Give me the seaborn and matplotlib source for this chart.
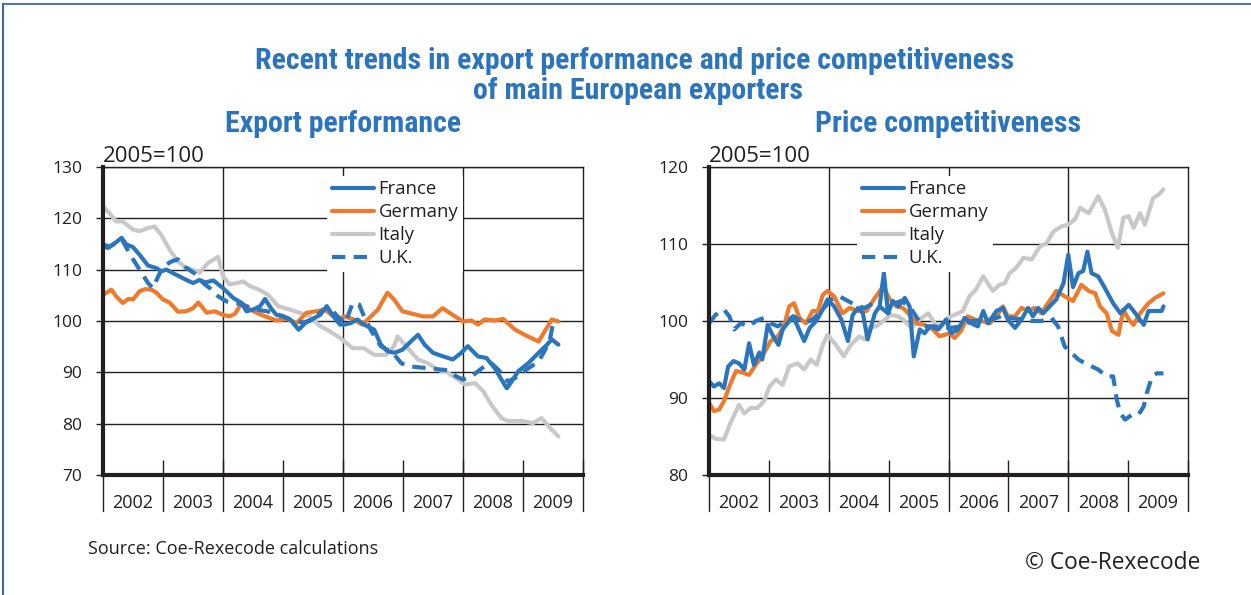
import numpy as np
import pandas as pd
import matplotlib
matplotlib.use("Agg")
import matplotlib.pyplot as plt
import seaborn as sns
from matplotlib import font_manager
from matplotlib.lines import Line2D

# ---------------- data ----------------
BASE_YEAR = 2002
year_labels = ["2002", "2003", "2004", "2005", "2006", "2007", "2008", "2009"]

# Export performance (2005=100); t = years since Jan 2002
exp_france_t = [0, .08, .17, .31, .39, .50, .61, .75, .89, .97, 1.06, 1.22, 1.39, 1.50, 1.61, 1.70, 1.84, 2.00, 2.17, 2.31,
                2.39, 2.50, 2.62, 2.70, 2.81, 2.89, 3.01, 3.12, 3.26, 3.37, 3.48, 3.62, 3.73, 3.84, 3.95, 4.02, 4.13, 4.24, 4.35, 4.52,
                4.63, 4.74, 4.86, 4.99, 5.13, 5.25, 5.36, 5.50, 5.67, 5.83, 5.97, 6.08, 6.25, 6.39, 6.53, 6.64, 6.73, 6.81, 6.92, 7.09,
                7.26, 7.40, 7.48, 7.59]
exp_france_v = [114.7, 114.2, 114.9, 116.2, 114.9, 114.4, 112.9, 110.8, 110.3, 109.7, 110.0, 109.0, 108.0, 107.4, 108.0, 107.5, 107.9, 106.4, 104.5, 103.5,
                101.9, 102.2, 102.9, 104.3, 102.3, 101.2, 100.9, 100.3, 98.3, 99.6, 100.3, 101.2, 102.9, 100.9, 99.3, 99.3, 99.6, 100.3, 99.3, 98.3,
                95.4, 94.1, 93.8, 94.4, 96.0, 97.3, 95.4, 93.8, 93.1, 92.5, 93.8, 95.1, 93.1, 92.8, 90.8, 88.6, 86.9, 88.2, 90.2, 91.8,
                93.8, 95.4, 96.4, 95.4]

exp_germany_t = [0, .14, .22, .33, .42, .50, .61, .70, .81, .89, 1.00, 1.11, 1.25, 1.39, 1.50, 1.59, 1.73, 1.86, 2.00, 2.11,
                 2.20, 2.31, 2.42, 2.56, 2.70, 2.89, 3.06, 3.23, 3.39, 3.56, 3.70, 3.84, 3.95, 4.02, 4.18, 4.32, 4.44, 4.58, 4.74, 4.85,
                 4.99, 5.16, 5.33, 5.50, 5.66, 5.80, 6.00, 6.14, 6.25, 6.36, 6.53, 6.67, 6.87, 7.03, 7.26, 7.48, 7.59]
exp_germany_v = [105.1, 106.1, 104.8, 103.5, 104.3, 104.2, 105.8, 106.2, 106.1, 105.5, 104.2, 103.6, 101.8, 101.9, 102.5, 103.6, 101.6, 101.9, 101.2, 100.9,
                 101.4, 103.5, 102.5, 101.6, 100.9, 100.1, 100.4, 99.6, 101.6, 101.9, 102.2, 100.9, 100.4, 100.9, 100.3, 99.3, 100.6, 102.2, 105.5, 104.2,
                 101.9, 101.4, 100.9, 100.9, 102.5, 101.4, 99.9, 100.1, 99.3, 100.3, 100.1, 100.4, 98.3, 97.3, 96.0, 100.3, 99.9]

exp_italy_t = [0, .11, .22, .33, .50, .61, .75, .86, .97, 1.11, 1.25, 1.39, 1.50, 1.61, 1.75, 1.92, 2.00, 2.11, 2.23, 2.34,
               2.45, 2.62, 2.75, 2.92, 3.12, 3.28, 3.45, 3.62, 3.78, 3.95, 4.16, 4.35, 4.52, 4.72, 4.85, 4.91, 5.08, 5.25, 5.41, 5.58,
               5.75, 5.92, 6.03, 6.20, 6.34, 6.47, 6.64, 6.75, 6.98, 7.17, 7.31, 7.45, 7.59]
exp_italy_v = [122.3, 121.0, 119.4, 119.4, 117.8, 117.5, 118.1, 118.4, 116.8, 113.9, 111.6, 110.3, 110.0, 109.4, 111.3, 112.5, 108.7, 107.1, 107.4, 107.7,
               106.8, 106.0, 105.1, 102.9, 102.2, 101.6, 100.9, 99.0, 98.0, 96.7, 94.7, 94.7, 93.4, 93.4, 95.1, 97.0, 94.7, 92.5, 91.8, 90.5,
               89.9, 88.6, 87.6, 87.9, 86.3, 83.7, 81.1, 80.5, 80.5, 80.1, 81.1, 79.2, 77.5]

exp_uk_t = [0, .11, .31, .47, .61, .75, .83, .92, 1.00, 1.14, 1.25, 1.36, 1.56, 1.67, 1.78, 1.92, 2.06, 2.23, 2.39, 2.56,
            2.73, 2.89, 3.12, 3.34, 3.51, 3.67, 3.76, 3.90, 4.04, 4.16, 4.27, 4.35, 4.46, 4.63, 4.83, 4.97, 5.08, 5.25, 5.41, 5.58,
            5.75, 5.89, 6.00, 6.14, 6.25, 6.36, 6.47, 6.59, 6.75, 6.92, 7.09, 7.26, 7.37, 7.45, 7.51]
exp_uk_v = [114.9, 114.5, 116.0, 112.6, 110.0, 107.4, 106.4, 108.7, 110.6, 111.6, 112.0, 110.6, 109.0, 107.4, 106.4, 104.8, 103.8, 103.5, 102.9, 102.2,
            101.9, 101.4, 100.3, 99.7, 100.4, 102.2, 102.9, 101.0, 99.6, 103.5, 103.2, 100.9, 98.3, 95.1, 93.8, 91.8, 91.2, 91.0, 90.8, 90.6,
            90.4, 89.2, 88.6, 89.2, 90.2, 91.2, 91.8, 90.5, 88.2, 89.2, 90.8, 92.1, 94.4, 96.4, 100.3]

# Price competitiveness (2005=100)
pc_france_t = [0, .08, .17, .25, .32, .41, .50, .59, .67, .75, .84, .89, .98, 1.06, 1.16, 1.23, 1.31, 1.40, 1.48, 1.59,
               1.68, 1.79, 1.90, 1.98, 2.09, 2.21, 2.32, 2.40, 2.49, 2.57, 2.65, 2.77, 2.85, 2.92, 2.99, 3.07, 3.16, 3.27, 3.35, 3.42,
               3.52, 3.60, 3.69, 3.83, 3.96, 4.04, 4.16, 4.27, 4.38, 4.49, 4.58, 4.66, 4.80, 4.91, 4.99, 5.11, 5.22, 5.33, 5.41, 5.50,
               5.58, 5.69, 5.80, 5.92, 6.00, 6.08, 6.17, 6.25, 6.32, 6.39, 6.50, 6.61, 6.75, 6.87, 7.01, 7.12, 7.26, 7.34, 7.45, 7.56, 7.59]
pc_france_v = [92.2, 91.5, 91.9, 91.3, 94.1, 94.8, 94.5, 93.7, 97.1, 94.3, 95.9, 95.0, 99.5, 98.2, 96.9, 98.9, 99.7, 100.6, 99.3, 97.4,
               99.1, 100.0, 101.5, 102.8, 101.9, 100.2, 97.4, 100.8, 101.7, 101.0, 97.6, 101.0, 101.9, 106.2, 101.0, 102.6, 101.9, 103.0, 101.9, 95.4,
               98.9, 98.4, 99.3, 98.9, 100.2, 98.4, 98.9, 100.4, 99.7, 99.3, 101.3, 99.7, 101.3, 101.7, 100.2, 99.1, 100.2, 101.7, 100.6, 101.7,
               101.0, 101.9, 102.8, 104.9, 108.6, 104.4, 106.2, 106.5, 109.0, 106.2, 105.8, 104.3, 102.3, 101.0, 102.1, 101.0, 99.5, 101.3, 101.3, 101.3, 101.9]

pc_germany_t = [0, .08, .17, .25, .34, .45, .56, .67, .78, .89, 1.03, 1.15, 1.25, 1.34, 1.42, 1.51, 1.62, 1.73, 1.82, 1.90,
                1.98, 2.09, 2.23, 2.35, 2.49, 2.63, 2.77, 2.91, 3.02, 3.13, 3.24, 3.35, 3.46, 3.60, 3.74, 3.85, 3.93, 4.02, 4.10, 4.21,
                4.32, 4.44, 4.55, 4.69, 4.80, 4.91, 4.99, 5.11, 5.22, 5.33, 5.44, 5.55, 5.66, 5.80, 5.94, 6.08, 6.22, 6.34, 6.45, 6.53,
                6.64, 6.73, 6.84, 6.92, 7.01, 7.09, 7.20, 7.34, 7.45, 7.59]
pc_germany_v = [89.4, 88.3, 88.5, 89.6, 91.5, 93.5, 93.3, 93.0, 94.3, 95.4, 97.4, 98.0, 99.3, 101.9, 102.3, 100.4, 99.7, 101.3, 101.3, 103.4,
                103.9, 103.2, 101.0, 101.7, 101.3, 101.3, 103.0, 104.5, 102.8, 101.9, 101.7, 100.8, 99.7, 99.5, 98.9, 98.0, 98.2, 98.4, 97.8, 98.7,
                100.6, 100.2, 100.0, 99.7, 100.6, 101.9, 100.6, 100.6, 101.7, 101.3, 101.7, 101.0, 102.3, 103.9, 103.2, 102.6, 104.7, 103.9, 103.6, 101.9,
                101.0, 98.7, 98.2, 101.5, 100.2, 99.5, 101.0, 102.3, 103.0, 103.6]

pc_italy_t = [0, .11, .25, .36, .50, .59, .70, .81, .92, 1.01, 1.12, 1.23, 1.34, 1.48, 1.59, 1.70, 1.80, 1.90, 1.98, 2.12,
              2.25, 2.37, 2.51, 2.60, 2.68, 2.79, 2.91, 3.04, 3.16, 3.27, 3.38, 3.52, 3.66, 3.77, 3.88, 3.99, 4.10, 4.24, 4.35, 4.46,
              4.58, 4.74, 4.85, 4.94, 5.02, 5.13, 5.25, 5.39, 5.53, 5.64, 5.75, 5.89, 6.00, 6.11, 6.20, 6.34, 6.50, 6.61, 6.73, 6.83,
              6.92, 7.01, 7.09, 7.20, 7.28, 7.42, 7.51, 7.59]
pc_italy_v = [85.2, 84.7, 84.6, 86.8, 89.1, 88.0, 88.7, 88.7, 89.6, 91.5, 92.4, 91.7, 94.1, 94.5, 93.7, 95.0, 94.3, 96.9, 98.2, 96.9,
              95.4, 96.9, 98.0, 97.6, 99.1, 99.3, 100.0, 100.8, 100.6, 100.0, 99.1, 100.2, 101.0, 99.7, 99.3, 100.4, 100.8, 101.3, 103.2, 104.1,
              105.8, 103.9, 104.7, 104.9, 106.2, 106.9, 108.2, 108.0, 109.7, 110.1, 111.6, 112.3, 112.5, 113.2, 114.7, 114.0, 116.2, 114.5, 111.4, 109.5,
              113.4, 113.6, 112.1, 114.0, 112.5, 116.0, 116.4, 117.1]

pc_uk_t = [0, .11, .25, .34, .42, .53, .67, .78, .92, 1.03, 1.15, 1.28, 1.42, 1.59, 1.73, 1.90, 2.04, 2.18, 2.32, 2.49,
           2.60, 2.74, 2.88, 2.99, 3.10, 3.21, 3.35, 3.49, 3.60, 3.77, 3.88, 4.04, 4.21, 4.38, 4.55, 4.72, 4.88, 5.05, 5.22, 5.39,
           5.55, 5.72, 5.83, 5.94, 6.06, 6.17, 6.28, 6.39, 6.50, 6.64, 6.75, 6.81, 6.87, 6.95, 7.06, 7.17, 7.26, 7.31, 7.40, 7.48, 7.59]
pc_uk_v = [99.7, 100.8, 101.5, 100.6, 98.9, 99.7, 99.3, 100.0, 100.4, 99.7, 99.3, 100.0, 100.6, 99.7, 100.2, 101.5, 102.8, 103.2, 102.6, 101.9,
           101.7, 102.3, 101.7, 101.0, 102.3, 102.6, 101.9, 100.2, 99.3, 99.3, 99.1, 99.1, 99.3, 100.0, 100.0, 100.2, 100.6, 100.4, 100.2, 100.0,
           100.0, 100.4, 99.3, 96.7, 95.8, 95.0, 94.5, 94.1, 93.7, 92.8, 92.8, 89.8, 88.0, 87.2, 87.8, 87.8, 88.9, 90.6, 92.8, 93.2, 93.2]

exp_yticks = [70, 80, 90, 100, 110, 120, 130]
pc_yticks = [80, 90, 100, 110, 120]

# ---------------- style ----------------
available = {f.name for f in font_manager.fontManager.ttflist}
body_font = "Open Sans" if "Open Sans" in available else "DejaVu Sans"
title_font = next((f for f in ["Liberation Sans Narrow", "Roboto Condensed", "Open Sans Condensed"] if f in available), body_font)

sns.set_style("white")
plt.rcParams["font.family"] = [body_font, "DejaVu Sans"]

BLUE = "#2a75bc"
ORANGE = "#ee7b2c"
GRAY = "#c8c8c8"
TITLE_BLUE = "#2c74bc"
INK = "#231f20"

fig = plt.figure(figsize=(12.51, 5.95), dpi=100)
ax1 = fig.add_axes([103 / 1251, 1 - 475 / 595, 480 / 1251, 308 / 595])
ax2 = fig.add_axes([709 / 1251, 1 - 475 / 595, 479 / 1251, 308 / 595])


def draw_panel(ax, series, yticks, legend_x):
    for name, t, v, color, dashed in series:
        kw = dict(linestyle=(0, (3.2, 2.0)), dash_capstyle="butt") if dashed else dict(solid_capstyle="round")
        sns.lineplot(x=np.array(t) + BASE_YEAR, y=v, ax=ax, color=color, lw=3.0, label=name,
                     estimator=None, sort=False, solid_joinstyle="round", zorder=3, **kw)
    ax.set_xlim(BASE_YEAR, BASE_YEAR + len(year_labels))
    ax.set_ylim(yticks[0], yticks[-1])
    ax.set_yticks(yticks)
    ax.yaxis.grid(True, color=INK, lw=1.0)
    ax.set_axisbelow(True)
    for side in ["left", "bottom"]:
        ax.spines[side].set_linewidth(3.0)
        ax.spines[side].set_color(INK)
        ax.spines[side].set_zorder(5)
    for side in ["top", "right"]:
        ax.spines[side].set_linewidth(1.0)
        ax.spines[side].set_color(INK)
    ax.tick_params(axis="y", direction="out", length=5, width=1, pad=10, labelsize=12.5, colors=INK, left=True)
    boundaries = np.arange(BASE_YEAR, BASE_YEAR + len(year_labels) + 1)
    ax.set_xticks(boundaries)
    ax.set_xticklabels([])
    ax.tick_params(axis="x", which="major", direction="in", length=11, width=1, colors=INK, bottom=True)
    mids = boundaries[:-1] + 0.5
    ax.set_xticks(mids, minor=True)
    ax.set_xticklabels(year_labels, minor=True)
    ax.tick_params(axis="x", which="minor", length=0, pad=14, labelsize=13, colors=INK)
    for b in boundaries:
        if (b - BASE_YEAR) % 2 == 0 and b not in (boundaries[0], boundaries[-1]):
            ax.axvline(b, color=INK, lw=1.0, zorder=1)
        ax.axvline(b, ymin=-36 / 308, ymax=0, color=INK, lw=1.0, clip_on=False)
    ax.set_xlabel("")
    ax.set_ylabel("")
    ax.text(0.0, 1.0, "2005=100", transform=ax.transAxes, ha="left", va="bottom", fontsize=16, color=INK)
    handles, labels = ax.get_legend_handles_labels()
    order = ["France", "Germany", "Italy", "U.K."]
    hmap = dict(zip(labels, handles))
    leg = ax.legend([hmap[o] for o in order], order, loc="upper left", bbox_to_anchor=(legend_x, 0.972),
                    frameon=True, facecolor="white", edgecolor="none", framealpha=1, fancybox=False,
                    fontsize=13.3, handlelength=2.27, handletextpad=0.27, labelspacing=0.27,
                    borderpad=0.25, borderaxespad=0)
    leg.set_zorder(4)
    for txt in leg.get_texts():
        txt.set_color(INK)


draw_panel(ax1, [("Italy", exp_italy_t, exp_italy_v, GRAY, False),
                 ("Germany", exp_germany_t, exp_germany_v, ORANGE, False),
                 ("U.K.", exp_uk_t, exp_uk_v, BLUE, True),
                 ("France", exp_france_t, exp_france_v, BLUE, False)], exp_yticks, 0.467)
draw_panel(ax2, [("Italy", pc_italy_t, pc_italy_v, GRAY, False),
                 ("Germany", pc_germany_t, pc_germany_v, ORANGE, False),
                 ("U.K.", pc_uk_t, pc_uk_v, BLUE, True),
                 ("France", pc_france_t, pc_france_v, BLUE, False)], pc_yticks, 0.309)

# titles
tkw = dict(ha="center", va="center", fontsize=21.5, fontweight="bold", color=TITLE_BLUE, family=[title_font, "DejaVu Sans"])
fig.text(635 / 1251, 1 - 61 / 595, "Recent trends in export performance and price competitiveness", **tkw)
fig.text(638 / 1251, 1 - 91 / 595, "of main European exporters", **tkw)
fig.text(343 / 1251, 1 - 124 / 595, "Export performance", **tkw)
fig.text(948 / 1251, 1 - 124 / 595, "Price competitiveness", **tkw)

fig.text(88 / 1251, 1 - 549 / 595, "Source: Coe-Rexecode calculations", ha="left", va="center", fontsize=13, color=INK)
fig.text(1025 / 1251, 1 - 563 / 595, "© Coe-Rexecode", ha="left", va="center", fontsize=16.4, color=INK)

# frame lines
fig.add_artist(Line2D([3 / 1251, 1], [1 - 4 / 595, 1 - 4 / 595], color="#5577b0", lw=1.5, transform=fig.transFigure))
fig.add_artist(Line2D([3 / 1251, 3 / 1251], [0, 1 - 4 / 595], color="#3f66ad", lw=1.5, transform=fig.transFigure))

fig.savefig("out.png", dpi=100)
